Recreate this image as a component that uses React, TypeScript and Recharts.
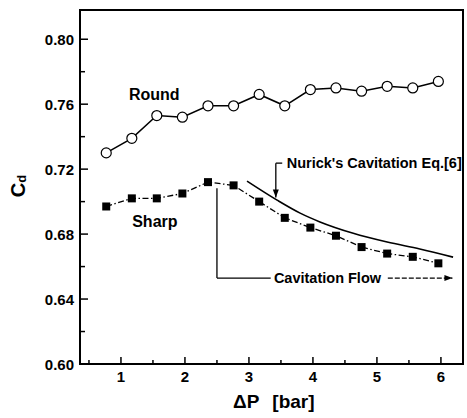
import React from "react";
import {
  LineChart,
  Line,
  XAxis,
  YAxis,
  ReferenceArea,
  ReferenceLine,
  ReferenceDot,
  Label,
} from "recharts";

// pressure drop [bar] at each measured point
const dpPoints = [0.77, 1.17, 1.56, 1.96, 2.36, 2.76, 3.16, 3.56, 3.96, 4.36, 4.76, 5.16, 5.56, 5.96];
const roundCd = [0.730, 0.739, 0.753, 0.752, 0.759, 0.759, 0.766, 0.759, 0.769, 0.770, 0.768, 0.771, 0.770, 0.774];
const sharpCd = [0.697, 0.702, 0.702, 0.705, 0.712, 0.710, 0.700, 0.690, 0.684, 0.679, 0.672, 0.668, 0.666, 0.662];

// Nurick's cavitation equation curve
const nurickDp = [2.97, 3.44, 3.8, 4.11, 4.63, 5.16, 5.67, 6.19];
const nurickCd = [0.7126, 0.7009, 0.6929, 0.6875, 0.6805, 0.6751, 0.6708, 0.6658];

const xTicks = [0.5, 1, 1.5, 2, 2.5, 3, 3.5, 4, 4.5, 5, 5.5, 6];
const xLabeled = [1, 2, 3, 4, 5, 6];
const yTicks = [0.6, 0.62, 0.64, 0.66, 0.68, 0.7, 0.72, 0.74, 0.76, 0.78, 0.8];
const yLabeled = [0.6, 0.64, 0.68, 0.72, 0.76, 0.8];

const X_DOMAIN: [number, number] = [0.36, 6.345];
const Y_DOMAIN: [number, number] = [0.6, 0.818];

const FONT = "'Liberation Sans', Arial, Helvetica, sans-serif";

const roundData = dpPoints.map((dp, i) => ({ dp, cd: roundCd[i] }));
const sharpData = dpPoints.map((dp, i) => ({ dp, cd: sharpCd[i] }));
const nurickData = nurickDp.map((dp, i) => ({ dp, cd: nurickCd[i] }));

const isIn = (list: number[], v: number) => list.some((t) => Math.abs(t - v) < 1e-6);

const XTick = ({ x, y, payload }: any) => {
  const major = isIn(xLabeled, payload.value);
  return (
    <g>
      <line x1={x} x2={x} y1={y} y2={y - (major ? 7 : 4)} stroke="#000" strokeWidth={1.5} />
      {major && (
        <text x={x} y={y + 18} textAnchor="middle" fontFamily={FONT} fontWeight="bold" fontSize={15} fill="#000">
          {payload.value}
        </text>
      )}
    </g>
  );
};

const YTick = ({ x, y, payload }: any) => {
  const major = isIn(yLabeled, payload.value);
  return (
    <g>
      <line x1={x} x2={x + (major ? 8 : 5)} y1={y} y2={y} stroke="#000" strokeWidth={1.5} />
      {major && (
        <text x={x - 6} y={y + 5.5} textAnchor="end" fontFamily={FONT} fontWeight="bold" fontSize={15} fill="#000">
          {payload.value.toFixed(2)}
        </text>
      )}
    </g>
  );
};

const SquareDot = ({ cx, cy, index }: any) => (
  <rect key={`sq-${index}`} x={cx - 4} y={cy - 4} width={8} height={8} fill="#000" />
);

// plain or dashed segment, optionally with an arrowhead at its end
const segment = (dash?: string, head?: boolean) => (p: any) => {
  const { x1, y1, x2, y2 } = p;
  const ang = Math.atan2(y2 - y1, x2 - x1);
  const len = 8;
  const w = 3;
  const bx = x2 - len * Math.cos(ang);
  const by = y2 - len * Math.sin(ang);
  const nx = -Math.sin(ang) * w;
  const ny = Math.cos(ang) * w;
  return (
    <g>
      <line x1={x1} y1={y1} x2={x2} y2={y2} stroke="#000" strokeWidth={1.3} strokeDasharray={dash} />
      {head && (
        <polygon points={`${x2},${y2} ${bx + nx},${by + ny} ${bx - nx},${by - ny}`} fill="#000" />
      )}
    </g>
  );
};

const note = (text: string, size: number, anchor: "start" | "middle") => (p: any) => (
  <text x={p.cx} y={p.cy} textAnchor={anchor} fontFamily={FONT} fontWeight="bold" fontSize={size} fill="#000">
    {text}
  </text>
);

const App: React.FC = () => {
  return (
    <div style={{ position: "absolute", left: 0, top: 0, background: "#fff" }}>
      <LineChart width={467} height={418} margin={{ top: 10, right: 4, bottom: 0, left: 0 }}>
        <XAxis
          type="number"
          dataKey="dp"
          domain={X_DOMAIN}
          allowDataOverflow
          ticks={xTicks}
          interval={0}
          tick={<XTick />}
          tickLine={false}
          tickSize={0}
          tickMargin={0}
          height={54}
          axisLine={{ stroke: "#000", strokeWidth: 2 }}
        >
          <Label
            content={() => (
              <text x={233} y={408} fontFamily={FONT} fontWeight="bold" fontSize={19} fill="#000">
                ΔP
                <tspan dx={13}>[bar]</tspan>
              </text>
            )}
          />
        </XAxis>
        <YAxis
          type="number"
          domain={Y_DOMAIN}
          allowDataOverflow
          ticks={yTicks}
          interval={0}
          tick={<YTick />}
          tickLine={false}
          tickSize={0}
          tickMargin={0}
          width={80}
          axisLine={{ stroke: "#000", strokeWidth: 2 }}
        >
          <Label
            content={() => (
              <text
                x={25}
                y={186}
                transform="rotate(-90 25 186)"
                textAnchor="middle"
                fontFamily={FONT}
                fontWeight="bold"
                fontSize={20}
                fill="#000"
              >
                C<tspan fontSize={13} dy={1}>d</tspan>
              </text>
            )}
          />
        </YAxis>

        <ReferenceArea
          x1={X_DOMAIN[0]}
          x2={X_DOMAIN[1]}
          y1={Y_DOMAIN[0]}
          y2={Y_DOMAIN[1]}
          fill="none"
          fillOpacity={0}
          stroke="#000"
          strokeWidth={2}
        />

        <Line
          data={roundData}
          dataKey="cd"
          stroke="#000"
          strokeWidth={1.5}
          dot={{ r: 5, fill: "#fff", stroke: "#000", strokeWidth: 1.2 }}
          isAnimationActive={false}
        />
        <Line
          data={sharpData}
          dataKey="cd"
          stroke="#000"
          strokeWidth={1.3}
          strokeDasharray="6 2.5 1.5 2.5"
          dot={<SquareDot />}
          isAnimationActive={false}
        />
        <Line
          data={nurickData}
          dataKey="cd"
          type="monotone"
          stroke="#000"
          strokeWidth={1.6}
          dot={false}
          isAnimationActive={false}
        />

        {/* pointer to Nurick's curve */}
        <ReferenceLine segment={[{ x: 3.42, y: 0.7237 }, { x: 3.42, y: 0.7025 }]} shape={segment(undefined, true)} />
        <ReferenceLine segment={[{ x: 3.42, y: 0.7237 }, { x: 3.52, y: 0.7237 }]} shape={segment()} />

        {/* cavitation flow bracket */}
        <ReferenceLine segment={[{ x: 2.5, y: 0.7083 }, { x: 2.5, y: 0.6529 }]} shape={segment()} />
        <ReferenceLine segment={[{ x: 2.5, y: 0.6529 }, { x: 3.34, y: 0.6529 }]} shape={segment()} />
        <ReferenceLine segment={[{ x: 5.17, y: 0.6529 }, { x: 6.18, y: 0.6529 }]} shape={segment("5 2", true)} />

        <ReferenceDot x={1.52} y={0.7625} r={0} shape={note("Round", 16, "middle")} />
        <ReferenceDot x={1.53} y={0.6843} r={0} shape={note("Sharp", 16, "middle")} />
        <ReferenceDot x={3.59} y={0.7206} r={0} shape={note("Nurick's Cavitation Eq.[6]", 14.5, "start")} />
        <ReferenceDot x={3.39} y={0.6498} r={0} shape={note("Cavitation Flow", 14.5, "start")} />
      </LineChart>
    </div>
  );
};

export default App;
